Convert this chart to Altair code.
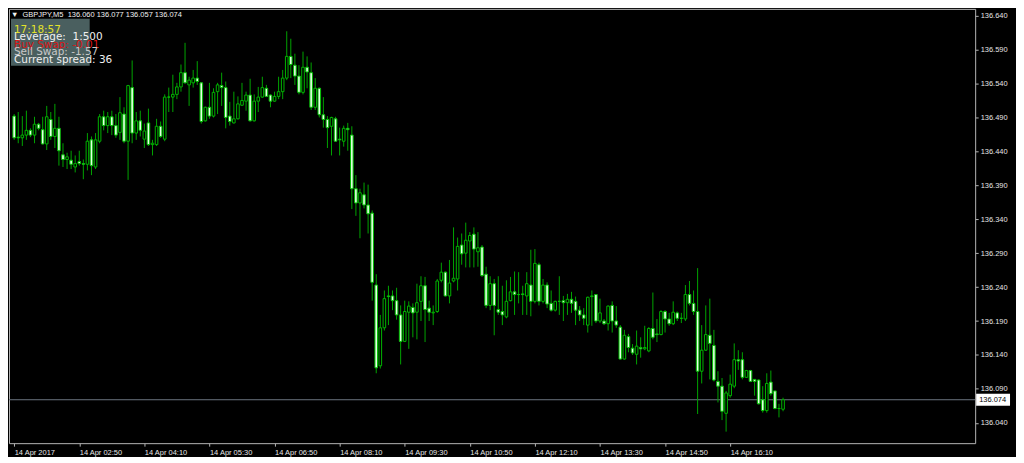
import altair as alt
import pandas as pd

# ---- data (GBPJPY M5 candles) ----
opens = [
136.492,136.461,136.460,136.464,136.471,136.464,136.480,136.472,136.451,136.487,
136.462,136.474,136.435,136.428,136.427,136.417,136.425,136.422,136.421,136.457,
136.417,136.455,136.491,136.478,136.491,136.478,136.468,136.495,136.455,136.534,
136.467,136.485,136.458,136.482,136.450,136.450,136.477,136.458,136.520,136.520,
136.524,136.535,136.556,136.538,136.541,136.548,136.541,136.485,136.505,136.492,
136.528,136.537,136.534,136.492,136.482,136.488,136.508,136.514,136.523,136.485,
136.514,136.520,136.533,136.523,136.514,136.521,136.528,136.548,136.580,136.567,
136.551,136.527,136.564,136.556,136.505,136.533,136.494,136.487,136.477,136.488,
136.458,136.455,136.474,136.464,136.385,136.364,136.376,136.361,136.349,136.243,
136.124,136.180,136.227,136.227,136.220,136.199,136.160,136.203,136.210,136.203,
136.219,136.242,136.209,136.202,136.204,136.250,136.262,136.227,136.249,136.252,
136.302,136.290,136.308,136.318,136.292,136.299,136.259,136.213,136.245,136.207,
136.204,136.196,136.220,136.233,136.229,136.230,136.227,136.243,136.219,136.273,
136.219,136.243,136.216,136.206,136.219,136.220,136.217,136.222,136.219,136.206,
136.199,136.184,136.226,136.229,136.190,136.190,136.186,136.213,136.190,136.181,
136.134,136.167,136.150,136.141,136.151,136.149,136.146,136.179,136.171,136.170,
136.204,136.193,136.186,136.202,136.194,136.193,136.229,136.216,136.204,136.116,
136.147,136.169,136.154,136.101,136.094,136.054,136.080,136.094,136.133,136.133,
136.107,136.117,136.104,136.103,136.074,136.058,136.100,136.087,136.061,136.060,
]
highs = [
136.495,136.498,136.492,136.500,136.474,136.491,136.482,136.491,136.507,136.498,
136.510,136.491,136.452,136.438,136.441,136.434,136.441,136.428,136.467,136.462,
136.467,136.495,136.500,136.498,136.500,136.495,136.520,136.505,136.538,136.574,
136.498,136.500,136.481,136.503,136.457,136.488,136.484,136.524,136.534,136.553,
136.541,136.568,136.600,136.550,136.560,136.573,136.542,136.506,136.541,136.533,
136.541,136.556,136.543,136.513,136.528,136.521,136.541,136.528,136.547,136.524,
136.535,136.550,136.538,136.524,136.528,136.550,136.560,136.617,136.606,136.584,
136.567,136.587,136.580,136.571,136.548,136.534,136.520,136.492,136.491,136.491,
136.475,136.478,136.482,136.477,136.405,136.385,136.394,136.391,136.353,136.259,
136.199,136.235,136.242,136.235,136.239,136.213,136.220,136.219,136.216,136.245,
136.256,136.255,136.220,136.213,136.252,136.276,136.263,136.280,136.328,136.313,
136.319,136.335,136.321,136.328,136.321,136.302,136.270,136.256,136.252,136.256,
136.242,136.250,136.255,136.263,136.262,136.242,136.262,136.295,136.296,136.276,
136.252,136.247,136.235,136.220,136.256,136.227,136.230,136.233,136.226,136.212,
136.209,136.226,136.235,136.229,136.223,136.193,136.213,136.219,136.212,136.184,
136.177,136.171,136.156,136.176,136.166,136.183,136.181,136.232,136.193,136.206,
136.206,136.202,136.219,136.204,136.202,136.243,136.249,136.235,136.268,136.184,
136.213,136.223,136.177,136.116,136.106,136.087,136.111,136.157,136.147,136.144,
136.118,136.118,136.104,136.104,136.094,136.113,136.117,136.087,136.068,136.077,
]
lows = [
136.457,136.452,136.448,136.457,136.461,136.452,136.471,136.450,136.442,136.457,
136.445,136.419,136.417,136.414,136.414,136.409,136.419,136.399,136.412,136.405,
136.414,136.452,136.471,136.467,136.464,136.460,136.457,136.452,136.398,136.452,
136.457,136.462,136.445,136.448,136.434,136.448,136.460,136.455,136.498,136.498,
136.517,136.528,136.540,136.507,136.534,136.538,136.481,136.484,136.488,136.490,
136.495,136.507,136.474,136.478,136.481,136.487,136.507,136.500,136.484,136.484,
136.498,136.519,136.520,136.505,136.513,136.517,136.517,136.545,136.548,136.538,
136.524,136.524,136.533,136.501,136.501,136.490,136.475,136.445,136.434,136.454,
136.434,136.447,136.441,136.355,136.345,136.312,136.356,136.319,136.220,136.113,
136.120,136.176,136.184,136.206,136.192,136.126,136.159,136.149,136.166,136.163,
136.190,136.159,136.190,136.184,136.202,136.247,136.226,136.216,136.247,136.235,
136.273,136.269,136.269,136.269,136.270,136.255,136.209,136.206,136.169,136.199,
136.184,136.194,136.219,136.199,136.216,136.199,136.199,136.197,136.216,136.213,
136.216,136.209,136.204,136.204,136.199,136.190,136.199,136.202,136.184,136.190,
136.184,136.173,136.183,136.187,136.187,136.184,136.176,136.173,136.180,136.133,
136.133,136.144,136.140,136.126,136.136,136.147,136.144,136.163,136.159,136.169,
136.173,136.183,136.184,136.190,136.187,136.190,136.213,136.199,136.053,136.098,
136.146,136.104,136.101,136.070,136.044,136.027,136.077,136.091,136.118,136.104,
136.106,136.100,136.080,136.067,136.055,136.055,136.080,136.060,136.048,136.057,
]
closes = [
136.460,136.460,136.464,136.471,136.464,136.480,136.474,136.451,136.491,136.462,
136.474,136.441,136.428,136.432,136.421,136.422,136.422,136.421,136.455,136.419,
136.457,136.491,136.478,136.491,136.478,136.464,136.497,136.455,136.537,136.467,
136.485,136.471,136.470,136.450,136.452,136.477,136.462,136.520,136.520,136.524,
136.535,136.556,136.541,136.545,136.548,136.543,136.484,136.505,136.492,136.527,
136.538,136.534,136.490,136.484,136.488,136.510,136.515,136.523,136.485,136.514,
136.520,136.534,136.521,136.514,136.521,136.528,136.548,136.580,136.568,136.551,
136.527,136.564,136.557,136.505,136.533,136.494,136.487,136.475,136.490,136.455,
136.457,136.474,136.472,136.385,136.364,136.379,136.361,136.348,136.247,136.121,
136.180,136.223,136.226,136.220,136.199,136.160,136.204,136.212,136.202,136.217,
136.242,136.207,136.203,136.203,136.249,136.262,136.227,136.246,136.253,136.300,
136.289,136.309,136.316,136.296,136.298,136.257,136.213,136.245,136.213,136.203,
136.199,136.219,136.233,136.229,136.229,136.229,136.245,136.219,136.275,136.219,
136.243,136.215,136.206,136.219,136.219,136.217,136.222,136.216,136.206,136.199,
136.194,136.225,136.227,136.190,136.202,136.186,136.212,136.190,136.184,136.134,
136.169,136.151,136.143,136.153,136.149,136.151,136.179,136.166,136.170,136.204,
136.193,136.186,136.203,136.194,136.194,136.229,136.216,136.204,136.116,136.147,
136.170,136.157,136.103,136.094,136.057,136.084,136.097,136.133,136.131,136.107,
136.117,136.101,136.101,136.068,136.058,136.098,136.083,136.061,136.061,136.074,
]

y_tick_values = [136.040, 136.090, 136.140, 136.190, 136.240, 136.290, 136.340,
                 136.390, 136.440, 136.490, 136.540, 136.590, 136.640]
x_tick_bars = [0, 16, 32, 48, 64, 80, 96, 112, 128, 144, 160, 176]
x_tick_labels = ["14 Apr 2017", "14 Apr 02:50", "14 Apr 04:10", "14 Apr 05:30",
                 "14 Apr 06:50", "14 Apr 08:10", "14 Apr 09:30", "14 Apr 10:50",
                 "14 Apr 12:10", "14 Apr 13:30", "14 Apr 14:50", "14 Apr 16:10"]
symbol = "GBPJPY,M5"
info_lines = ["17:18:57", "Leverage:\u00a0\u00a01:500", "Buy Swap: -0.01",
              "Sell Swap: -1.57", "Current spread: 36"]

# ---- chart ----
W, H = 970, 436
AXIS_FONT = "Liberation Sans"
LABEL_COLOR = "#e4e4e4"
FRAME = "#b4b4b4"

df = pd.DataFrame({"i": list(range(len(opens))), "o": opens, "h": highs,
                   "l": lows, "c": closes})
last = pd.DataFrame({"p": [closes[-1]]})

xscale = alt.Scale(domain=[-0.05, 235], nice=False, zero=False)
yscale = alt.Scale(domain=[136.010, 136.650], nice=False, zero=False)

labels_js = "[" + ",".join("'%s'" % s for s in x_tick_labels) + "]"
idx_js = "[" + ",".join(str(v) for v in x_tick_bars) + "]"
xaxis = alt.Axis(values=x_tick_bars, labelExpr=f"{labels_js}[indexof({idx_js}, datum.value)]",
                 orient="bottom", domain=False, grid=False, ticks=True, tickSize=3,
                 tickColor=FRAME, labelAlign="left", labelBaseline="top", labelPadding=2,
                 labelFlush=False, labelOverlap=False, labelBound=False,
                 labelColor=LABEL_COLOR, labelFont=AXIS_FONT, labelFontSize=7.5, title=None)
yaxis = alt.Axis(values=y_tick_values, format=".3f", orient="right", domain=False,
                 grid=False, ticks=True, tickSize=3, tickColor=FRAME, labelPadding=2,
                 labelFlush=False, labelOverlap=False, labelColor=LABEL_COLOR,
                 labelFont=AXIS_FONT, labelFontSize=7.5, title=None)

def X():
    return alt.X("i:Q", scale=xscale, axis=xaxis, title=None)

def Y(field):
    return alt.Y(field, scale=yscale, axis=yaxis, title=None)

base = alt.Chart(df)

price_line = alt.Chart(last).mark_rule(color="#6b7480", strokeWidth=1).encode(y=Y("p:Q"))

wicks = base.mark_rule(color="#00a400", strokeWidth=1, clip=True).encode(
    x=X(), y=Y("h:Q"), y2="l:Q")

bulls = base.transform_filter("datum.c > datum.o").mark_bar(
    size=2.6, fill="#000000", stroke="#00b400", strokeWidth=1, clip=True).encode(
    x=X(), y=Y("o:Q"), y2="c:Q")

bears = base.transform_filter("datum.c <= datum.o").mark_bar(
    size=2.6, fill="#e6ffe6", stroke="#00c000", strokeWidth=1, clip=True).encode(
    x=X(), y=Y("o:Q"), y2="c:Q")

tag_bg = alt.Chart(last).mark_rule(color="#ffffff", strokeWidth=12, strokeCap="butt").encode(
    y=Y("p:Q"), x=alt.value(W + 1), x2=alt.value(W + 35))
tag_txt = alt.Chart(last).mark_text(align="left", baseline="middle", font=AXIS_FONT,
                                    fontSize=7.5, color="#000000").encode(
    y=Y("p:Q"), x=alt.value(W + 4), text=alt.Text("p:Q", format=".3f"))

one = pd.DataFrame({"a": [0]})
info_box = alt.Chart(one).mark_rect(color="#4e6464", opacity=0.95).encode(
    x=alt.value(2), x2=alt.value(81), y=alt.value(10), y2=alt.value(57))

info_colors = ["#e2e22a", "#f0f0f0", "#dc1414", "#c8c8c8", "#f0f0f0"]
info_y = [24, 31.5, 39, 46.5, 54]
info_layers = []
for txt, col, yy in zip(info_lines, info_colors, info_y):
    info_layers.append(
        alt.Chart(one).mark_text(text=txt, align="left", baseline="alphabetic",
                                 font="DejaVu Sans", fontSize=10.5, color=col).encode(
            x=alt.value(5), y=alt.value(yy)))

header_txt = "\u25bc\u00a0\u00a0%s\u00a0\u00a0%.3f %.3f %.3f %.3f" % (
    symbol, opens[-1], highs[-1], lows[-1], closes[-1])
header = alt.Chart(one).mark_text(text=header_txt, align="left", baseline="alphabetic",
                                  font=AXIS_FONT, fontSize=7.5, color="#f0f0f0").encode(
    x=alt.value(2), y=alt.value(8))

chart = alt.layer(price_line, wicks, bulls, bears, tag_bg, tag_txt, info_box,
                  *info_layers, header).properties(
    width=W, height=H, padding=0, background="#000000"
).configure_view(stroke=FRAME, strokeWidth=1)

chart.save("out.html", embed_options={"renderer": "svg", "actions": False})
